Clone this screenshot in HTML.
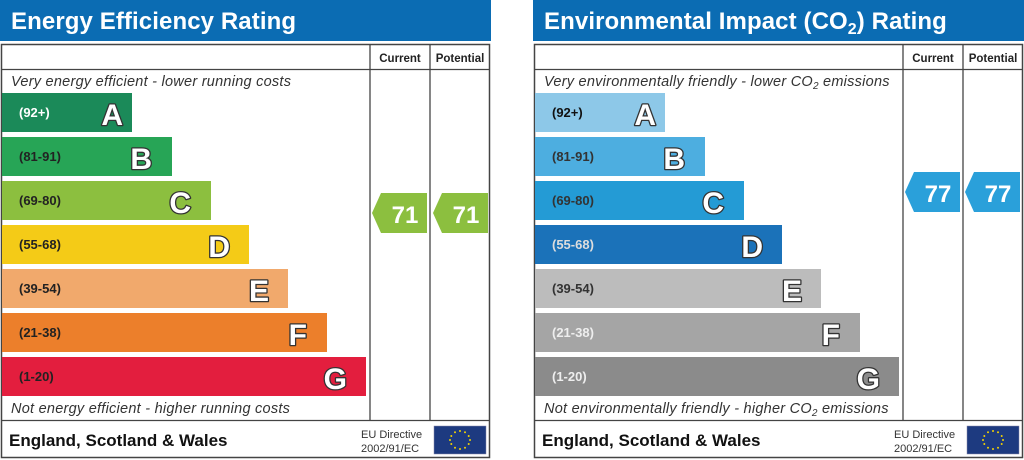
<!DOCTYPE html>
<html><head><meta charset="utf-8"><style>
html,body{margin:0;padding:0;background:#fff;}
svg{display:block;font-family:"Liberation Sans",Arial,sans-serif;}
.lt{font-weight:bold;font-size:30px;fill:#fff;stroke:#333;stroke-width:2.6px;paint-order:stroke;stroke-linejoin:round;}
.rg{font-weight:bold;font-size:13px;}
.it{font-size:14.5px;font-style:italic;fill:#333;letter-spacing:0.25px;}
</style></head><body>
<svg width="1024" height="460" viewBox="0 0 1024 460" xmlns="http://www.w3.org/2000/svg">
<rect width="1024" height="460" fill="#fff"/>
<!-- LEFT PANEL -->
<rect x="0" y="0" width="491" height="41" fill="#0b6cb3"/>
<text x="11" y="29" font-size="24" font-weight="bold" fill="#fff" letter-spacing="0.1">Energy Efficiency Rating</text>
<rect x="1.5" y="44.5" width="488" height="413" fill="none" stroke="#444" stroke-width="1.5"/>
<line x1="1" y1="69.5" x2="490" y2="69.5" stroke="#444" stroke-width="1.3"/>
<line x1="370" y1="45" x2="370" y2="420" stroke="#444" stroke-width="1.3"/>
<line x1="430" y1="45" x2="430" y2="420" stroke="#444" stroke-width="1.3"/>
<line x1="1" y1="420.5" x2="490" y2="420.5" stroke="#444" stroke-width="1.3"/>
<text x="400" y="62" font-size="11.5" font-weight="bold" text-anchor="middle" fill="#222">Current</text>
<text x="460" y="62" font-size="11.5" font-weight="bold" text-anchor="middle" fill="#222">Potential</text>
<text x="11" y="86" class="it">Very energy efficient - lower running costs</text>
<text x="11" y="413" class="it">Not energy efficient - higher running costs</text>
<g>
<rect x="2" y="93" width="130" height="39" fill="#1b8a59"/><text x="19" y="117" class="rg" fill="#fff">(92+)</text><text x="123" y="125" class="lt" text-anchor="end">A</text>
<rect x="2" y="137" width="170" height="39" fill="#27a556"/><text x="19" y="161" class="rg" fill="#222">(81-91)</text><text x="152" y="169" class="lt" text-anchor="end">B</text>
<rect x="2" y="181" width="209" height="39" fill="#8cbf3f"/><text x="19" y="205" class="rg" fill="#222">(69-80)</text><text x="191" y="213" class="lt" text-anchor="end">C</text>
<rect x="2" y="225" width="247" height="39" fill="#f4cb17"/><text x="19" y="249" class="rg" fill="#222">(55-68)</text><text x="230" y="257" class="lt" text-anchor="end">D</text>
<rect x="2" y="269" width="286" height="39" fill="#f1a96c"/><text x="19" y="293" class="rg" fill="#222">(39-54)</text><text x="269" y="301" class="lt" text-anchor="end">E</text>
<rect x="2" y="313" width="325" height="39" fill="#ec7f2b"/><text x="19" y="337" class="rg" fill="#222">(21-38)</text><text x="307" y="345" class="lt" text-anchor="end">F</text>
<rect x="2" y="357" width="364" height="39" fill="#e31e3e"/><text x="19" y="381" class="rg" fill="#222">(1-20)</text><text x="347" y="389" class="lt" text-anchor="end">G</text>
</g>
<polygon points="372,213 381,193 427,193 427,233 381,233" fill="#8cbf3f"/>
<text x="405" y="223" font-size="24" font-weight="bold" fill="#fff" text-anchor="middle">71</text>
<polygon points="433,213 442,193 488,193 488,233 442,233" fill="#8cbf3f"/>
<text x="466" y="223" font-size="24" font-weight="bold" fill="#fff" text-anchor="middle">71</text>
<text x="9" y="446" font-size="17" font-weight="bold" fill="#111">England, Scotland &amp; Wales</text>
<text x="361" y="438" font-size="11" fill="#333">EU Directive</text>
<text x="361" y="452" font-size="11" fill="#333">2002/91/EC</text>
<rect x="434" y="426" width="52" height="28" fill="#1d3a80" stroke="#88a" stroke-width="0.5"/>
<g fill="#f3d300">
<circle cx="460" cy="431" r="1"/><circle cx="465" cy="432.3" r="1"/><circle cx="468.7" cy="436" r="1"/><circle cx="470" cy="440" r="1"/><circle cx="468.7" cy="444" r="1"/><circle cx="465" cy="447.7" r="1"/><circle cx="460" cy="449" r="1"/><circle cx="455" cy="447.7" r="1"/><circle cx="451.3" cy="444" r="1"/><circle cx="450" cy="440" r="1"/><circle cx="451.3" cy="436" r="1"/><circle cx="455" cy="432.3" r="1"/>
</g>
<!-- RIGHT PANEL -->
<rect x="533" y="0" width="491" height="41" fill="#0b6cb3"/>
<text x="544" y="29" font-size="24" font-weight="bold" fill="#fff" letter-spacing="0.1">Environmental Impact (CO<tspan font-size="16" dy="5">2</tspan><tspan dy="-5">) Rating</tspan></text>
<rect x="534.5" y="44.5" width="488" height="413" fill="none" stroke="#444" stroke-width="1.5"/>
<line x1="534" y1="69.5" x2="1023" y2="69.5" stroke="#444" stroke-width="1.3"/>
<line x1="903" y1="45" x2="903" y2="420" stroke="#444" stroke-width="1.3"/>
<line x1="963" y1="45" x2="963" y2="420" stroke="#444" stroke-width="1.3"/>
<line x1="534" y1="420.5" x2="1023" y2="420.5" stroke="#444" stroke-width="1.3"/>
<text x="933" y="62" font-size="11.5" font-weight="bold" text-anchor="middle" fill="#222">Current</text>
<text x="993" y="62" font-size="11.5" font-weight="bold" text-anchor="middle" fill="#222">Potential</text>
<text x="544" y="86" class="it">Very environmentally friendly - lower CO<tspan font-size="10" dy="3">2</tspan><tspan dy="-3"> emissions</tspan></text>
<text x="544" y="413" class="it">Not environmentally friendly - higher CO<tspan font-size="10" dy="3">2</tspan><tspan dy="-3"> emissions</tspan></text>
<g>
<rect x="535" y="93" width="130" height="39" fill="#8dc8e8"/><text x="552" y="117" class="rg" fill="#111">(92+)</text><text x="656" y="125" class="lt" text-anchor="end">A</text>
<rect x="535" y="137" width="170" height="39" fill="#4daee0"/><text x="552" y="161" class="rg" fill="#333">(81-91)</text><text x="685" y="169" class="lt" text-anchor="end">B</text>
<rect x="535" y="181" width="209" height="39" fill="#249bd5"/><text x="552" y="205" class="rg" fill="#333">(69-80)</text><text x="724" y="213" class="lt" text-anchor="end">C</text>
<rect x="535" y="225" width="247" height="39" fill="#1b72b9"/><text x="552" y="249" class="rg" fill="#ddd">(55-68)</text><text x="763" y="257" class="lt" text-anchor="end">D</text>
<rect x="535" y="269" width="286" height="39" fill="#bcbcbc"/><text x="552" y="293" class="rg" fill="#333">(39-54)</text><text x="802" y="301" class="lt" text-anchor="end">E</text>
<rect x="535" y="313" width="325" height="39" fill="#a5a5a5"/><text x="552" y="337" class="rg" fill="#eee">(21-38)</text><text x="840" y="345" class="lt" text-anchor="end">F</text>
<rect x="535" y="357" width="364" height="39" fill="#8b8b8b"/><text x="552" y="381" class="rg" fill="#eee">(1-20)</text><text x="880" y="389" class="lt" text-anchor="end">G</text>
</g>
<polygon points="905,192 914,172 960,172 960,212 914,212" fill="#2aa0da"/>
<text x="938" y="202" font-size="24" font-weight="bold" fill="#fff" text-anchor="middle">77</text>
<polygon points="965,192 974,172 1020,172 1020,212 974,212" fill="#2aa0da"/>
<text x="998" y="202" font-size="24" font-weight="bold" fill="#fff" text-anchor="middle">77</text>
<text x="542" y="446" font-size="17" font-weight="bold" fill="#111">England, Scotland &amp; Wales</text>
<text x="894" y="438" font-size="11" fill="#333">EU Directive</text>
<text x="894" y="452" font-size="11" fill="#333">2002/91/EC</text>
<rect x="967" y="426" width="52" height="28" fill="#1d3a80" stroke="#88a" stroke-width="0.5"/>
<g fill="#f3d300">
<circle cx="993" cy="431" r="1"/><circle cx="998" cy="432.3" r="1"/><circle cx="1001.7" cy="436" r="1"/><circle cx="1003" cy="440" r="1"/><circle cx="1001.7" cy="444" r="1"/><circle cx="998" cy="447.7" r="1"/><circle cx="993" cy="449" r="1"/><circle cx="988" cy="447.7" r="1"/><circle cx="984.3" cy="444" r="1"/><circle cx="983" cy="440" r="1"/><circle cx="984.3" cy="436" r="1"/><circle cx="988" cy="432.3" r="1"/>
</g>
</svg>
</body></html>
